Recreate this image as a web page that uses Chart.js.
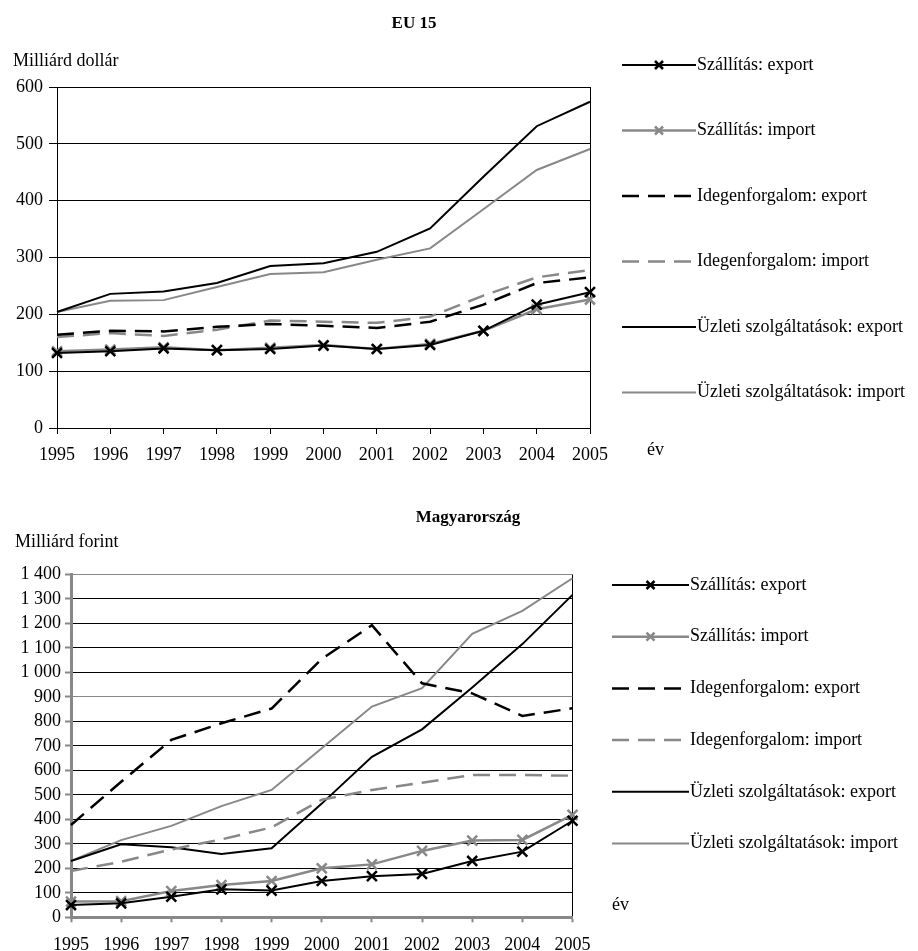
<!DOCTYPE html>
<html lang="hu">
<head>
<meta charset="utf-8">
<title>Szolgáltatás-külkereskedelem: EU 15 és Magyarország</title>
<script src="https://cdn.jsdelivr.net/npm/chart.js@4.4.1/dist/chart.umd.min.js"></script>
<style>
  html, body { margin: 0; padding: 0; background: #fff; width: 918px; height: 951px; overflow: hidden; }
  canvas { position: absolute; left: 0; }
  .lbl { position: absolute; font-family: "Liberation Serif", "Times New Roman", serif; font-size: 18px;
         color: #000; white-space: nowrap; line-height: 18px; }
  .ttl { font-weight: bold; font-size: 17px; transform: translateX(-50%); }
</style>
</head>
<body>
<canvas id="eu" width="918" height="480" style="top:0"></canvas>
<canvas id="hu" width="918" height="471" style="top:480px"></canvas>

<div class="lbl ttl" style="left:414px; top:14px">EU 15</div>
<div class="lbl" style="left:13px; top:51px">Milliárd dollár</div>
<div class="lbl" style="left:647px; top:440px">év</div>

<div class="lbl ttl" style="left:468px; top:508px">Magyarország</div>
<div class="lbl" style="left:15px; top:532px">Milliárd forint</div>
<div class="lbl" style="left:612px; top:895px">év</div>

<script>
// Years on the category axis
const years = ['1995', '1996', '1997', '1998', '1999', '2000', '2001', '2002', '2003', '2004', '2005'];

// Series names (same for both panels)
const seriesNames = [
  'Szállítás: export',
  'Szállítás: import',
  'Idegenforgalom: export',
  'Idegenforgalom: import',
  'Üzleti szolgáltatások: export',
  'Üzleti szolgáltatások: import'
];

// EU 15, billion USD
const euSzallitasExport  = [132, 135, 140, 137, 139, 145, 139, 146, 171, 217, 239];
const euSzallitasImport  = [135, 138, 142, 137, 141, 146, 139, 148, 171, 209, 226];
const euIdegenExport     = [164, 171, 170, 178, 183, 180, 176, 187, 217, 255, 265];
const euIdegenImport     = [160, 167, 162, 173, 189, 187, 185, 196, 233, 265, 278];
const euUzletiExport     = [204, 236, 240, 255, 285, 290, 310, 351, 442, 531, 574];
const euUzletiImport     = [204, 224, 225, 248, 271, 274, 296, 316, 385, 454, 491];

// Hungary, billion HUF
const huSzallitasExport  = [50, 57, 84, 114, 109, 148, 168, 177, 230, 268, 394];
const huSzallitasImport  = [64, 66, 107, 132, 148, 200, 216, 271, 313, 316, 418];
const huIdegenExport     = [377, 553, 724, 792, 852, 1055, 1192, 955, 914, 822, 853];
const huIdegenImport     = [189, 227, 277, 318, 367, 480, 520, 549, 581, 581, 578];
const huUzletiExport     = [230, 298, 286, 258, 282, 464, 655, 767, 938, 1115, 1316];
const huUzletiImport     = [230, 315, 373, 454, 520, 690, 860, 935, 1157, 1251, 1384];

// Value-axis tick labels
const euTickLabels = ['0', '100', '200', '300', '400', '500', '600'];
const huTickLabels = ['0', '100', '200', '300', '400', '500', '600', '700', '800', '900',
                      '1 000', '1 100', '1 200', '1 300', '1 400'];

const FONT = '"Liberation Serif", "Times New Roman", serif';
const BLACK = '#000000';
const GRAY = '#888888';

// Line styles, in legend order
const lineStyles = [
  { borderColor: BLACK, borderWidth: 2,   pointStyle: 'crossRot', pointRadius: 7, pointBorderWidth: 2.5 },
  { borderColor: GRAY,  borderWidth: 2.5, pointStyle: 'crossRot', pointRadius: 7, pointBorderWidth: 2.5 },
  { borderColor: BLACK, borderWidth: 2.5, borderDash: [17, 9], pointRadius: 0 },
  { borderColor: GRAY,  borderWidth: 2.5, borderDash: [17, 9], pointRadius: 0 },
  { borderColor: BLACK, borderWidth: 2,   pointRadius: 0 },
  { borderColor: GRAY,  borderWidth: 2,   pointRadius: 0 }
];

function buildDatasets(valueLists) {
  return valueLists.map((values, i) => Object.assign({
    label: seriesNames[i],
    data: values,
    tension: 0,
    fill: false,
    pointBorderColor: lineStyles[i].borderColor,
    pointBackgroundColor: lineStyles[i].borderColor,
    pointHoverRadius: 0
  }, lineStyles[i]));
}

// Legend drawn to the right of the plot: long line sample + marker + label
const sideLegend = {
  id: 'sideLegend',
  afterDraw(chart, args, o) {
    const ctx = chart.ctx;
    chart.data.datasets.forEach((ds, i) => {
      const y = o.top + i * o.step;
      ctx.save();
      ctx.strokeStyle = ds.borderColor;
      ctx.lineWidth = ds.borderWidth;
      ctx.setLineDash(ds.borderDash || []);
      ctx.beginPath();
      ctx.moveTo(o.x0, y);
      ctx.lineTo(o.x1, y);
      ctx.stroke();
      ctx.setLineDash([]);
      if (ds.pointStyle === 'crossRot') {
        const r = o.markerHalf;
        const cx = (o.x0 + o.x1) / 2;
        ctx.lineWidth = 2.5;
        ctx.beginPath();
        ctx.moveTo(cx - r, y - r); ctx.lineTo(cx + r, y + r);
        ctx.moveTo(cx - r, y + r); ctx.lineTo(cx + r, y - r);
        ctx.stroke();
      }
      ctx.fillStyle = '#000';
      ctx.font = '18px ' + FONT;
      ctx.textAlign = 'left';
      ctx.textBaseline = 'middle';
      ctx.fillText(ds.label, o.x1 + 1, y);
      ctx.restore();
    });
  }
};

function makeChart(id, cfg) {
  const lastIndex = years.length - 1;
  return new Chart(document.getElementById(id), {
    type: 'line',
    data: { labels: years, datasets: buildDatasets(cfg.series) },
    options: {
      responsive: false,
      animation: false,
      devicePixelRatio: 1,
      events: [],
      layout: { padding: { top: cfg.top, right: cfg.right, left: 0, bottom: 0 } },
      plugins: {
        legend: { display: false },
        tooltip: { enabled: false },
        title: { display: false },
        sideLegend: cfg.legend
      },
      scales: {
        x: {
          type: 'category',
          offset: false,
          border: { display: true, color: cfg.axisColor, width: cfg.axisWidth },
          grid: {
            display: true,
            drawOnChartArea: true,
            drawTicks: true,
            tickLength: cfg.xTickLen,
            tickColor: cfg.axisColor,
            tickWidth: cfg.axisWidth > 1 ? 2 : 1,
            lineWidth: 1,
            color: c => (c.index === lastIndex ? BLACK : 'rgba(0,0,0,0)')
          },
          ticks: {
            autoSkip: false, maxRotation: 0, minRotation: 0,
            padding: cfg.xPad, color: '#000',
            font: { family: FONT, size: 18 }
          },
          afterFit: s => { s.height = cfg.xHeight; }
        },
        y: {
          min: 0, max: cfg.max,
          border: { display: true, color: cfg.axisColor, width: cfg.axisWidth },
          grid: {
            drawTicks: true,
            tickLength: cfg.yTickLen,
            tickColor: cfg.axisColor,
            tickWidth: cfg.axisWidth > 1 ? 2 : 1,
            lineWidth: 1,
            color: cfg.gridColor
          },
          ticks: {
            stepSize: 100, autoSkip: false, padding: cfg.yPad, color: '#000',
            font: { family: FONT, size: 18 },
            callback: v => cfg.tickLabels[Math.round(v / 100)]
          },
          afterFit: s => { s.width = cfg.yWidth; }
        }
      }
    },
    plugins: [sideLegend]
  });
}

makeChart('eu', {
  series: [euSzallitasExport, euSzallitasImport, euIdegenExport, euIdegenImport, euUzletiExport, euUzletiImport],
  tickLabels: euTickLabels,
  max: 600,
  top: 87, right: 328,
  yWidth: 57, yTickLen: 8, yPad: 6,
  xHeight: 52, xTickLen: 6, xPad: 10,
  axisColor: BLACK, axisWidth: 1,
  gridColor: BLACK,
  legend: { x0: 622, x1: 696, top: 65, step: 65.5, markerHalf: 4 }
});

makeChart('hu', {
  series: [huSzallitasExport, huSzallitasImport, huIdegenExport, huIdegenImport, huUzletiExport, huUzletiImport],
  tickLabels: huTickLabels,
  max: 1400,
  top: 94.3, right: 345.5,
  yWidth: 71, yTickLen: 6, yPad: 4,
  xHeight: 33.7, xTickLen: 5, xPad: 12,
  axisColor: GRAY, axisWidth: 3,
  gridColor: c => ((c.tick && (c.tick.value === 900 || c.tick.value === 1400)) ? GRAY : BLACK),
  legend: { x0: 612, x1: 689, top: 105, step: 51.7, markerHalf: 4 }
});
</script>
</body>
</html>
